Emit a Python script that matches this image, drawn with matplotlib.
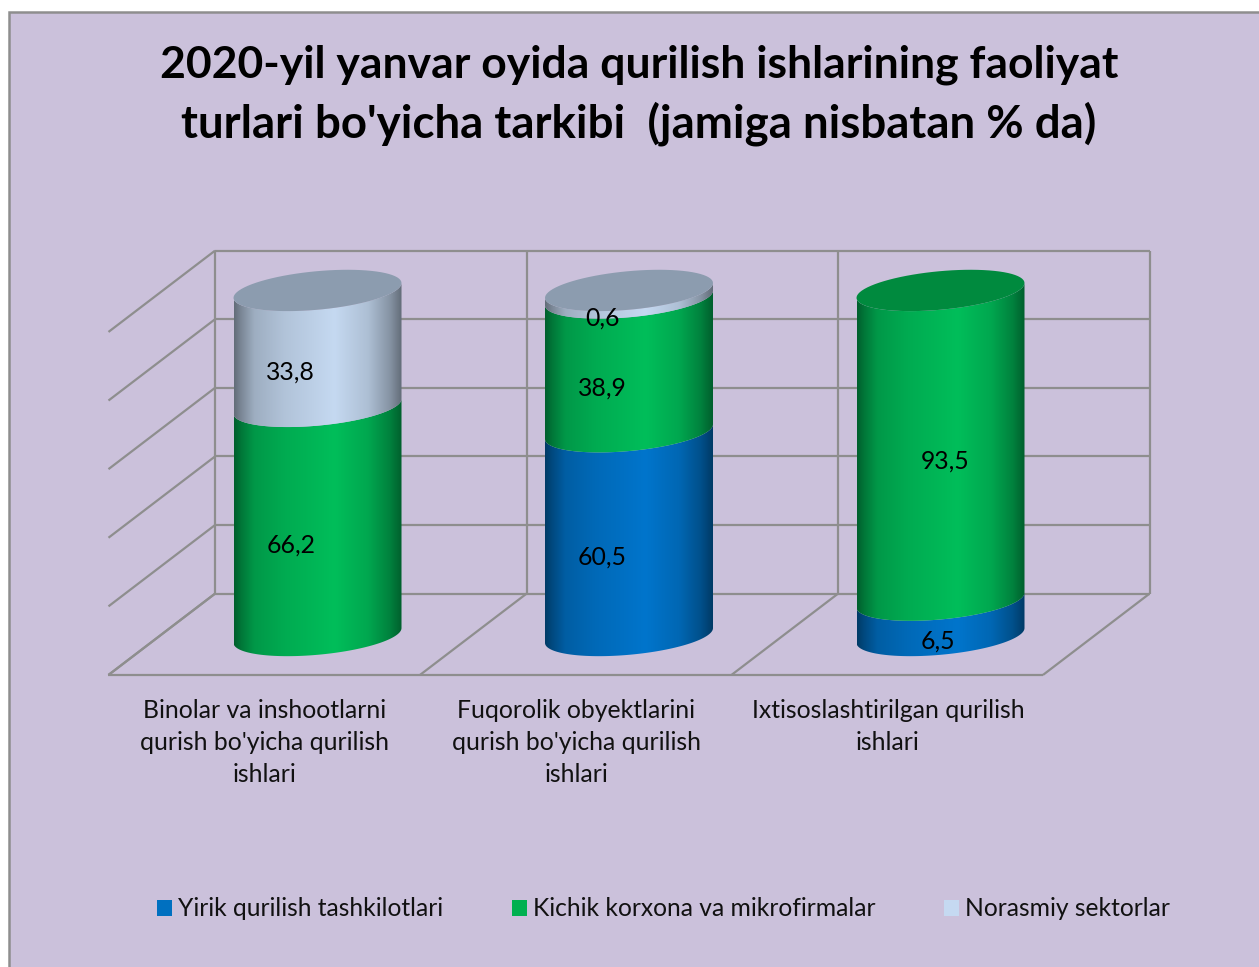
import numpy as np
import matplotlib
matplotlib.use("Agg")
import matplotlib.pyplot as plt
from matplotlib.patches import Polygon, Patch, Rectangle

plt.rcParams['font.family'] = ['Lato', 'DejaVu Sans']

categories = ["Binolar va inshootlarni\nqurish bo'yicha qurilish\nishlari",
              "Fuqorolik obyektlarini\nqurish bo'yicha qurilish\nishlari",
              "Ixtisoslashtirilgan qurilish\nishlari"]
series_names = ["Yirik qurilish tashkilotlari", "Kichik korxona va mikrofirmalar", "Norasmiy sektorlar"]
# heights as the cylinders are drawn in the picture
blue_vals = [0, 59.4, 10.3]
green_vals = [66.8, 39.0, 90.3]
light_vals = [33.8, 2.2, 0]
# printed labels differ a little from the drawn heights
blue_labels = ["", "60,5", "6,5"]
green_labels = ["66,2", "38,9", "93,5"]
light_labels = ["33,8", "0,6", ""]
grid_ticks = [0, 20, 40, 60, 80, 100]

legend_cols = ['#0070C0', '#00B050', '#C5D9F1']
side_cols = ['#0075CC', '#00BE5A', '#C5D9F1']
cap_cols = ['#00508C', '#008A3E', '#8C9CAF']
bg = '#CBC1DB'
line_col = '#8E8E8E'

W, H = 1259, 967
fig = plt.figure(figsize=(W / 100, H / 100), dpi=100, facecolor='white')
fig.add_artist(Rectangle((8.5 / W, -0.01), 1, 1.01 - 11.5 / H, transform=fig.transFigure,
                         facecolor=bg, edgecolor=line_col, linewidth=1.8, zorder=-1))

# x in category units, y in percent, laid over the whole figure
ax = fig.add_axes([0, 0, 1, 1])
ax.patch.set_alpha(0)
step, pct = 311.5, 3.43
ax.set_xlim(-317.5 / step, (W - 317.5) / step)
ax.set_ylim((635.5 - H) / pct, 635.5 / pct)
ax.axis('off')

# box behind the cylinders
back_x, back_y = 0.171, 12.2
front_x, front_y = -0.171, -11.5
n = len(categories)
edges = np.arange(n + 1) - 0.5

def wall(xs, ys, **kw):
    ax.plot(xs, ys, color=line_col, lw=1.6, zorder=1, solid_capstyle='butt', **kw)

for t in grid_ticks:
    wall([edges[0] + back_x, edges[-1] + back_x], [t + back_y, t + back_y])
    wall([edges[0] + front_x, edges[0] + back_x], [t + front_y, t + back_y])
for e in edges:
    wall([e + back_x, e + back_x], [grid_ticks[0] + back_y, grid_ticks[-1] + back_y])
    wall([e + front_x, e + back_x], [front_y, back_y])
wall([edges[0] + front_x, edges[-1] + front_x], [front_y, front_y])

# cylinders
R = 84 / step
tilt = 7.4 / pct
minor = 19.3 / pct
shade_pos = [0, 0.04, 0.12, 0.3, 0.6, 0.8, 0.93, 1]
shade_val = [0.5, 0.62, 0.8, 0.9, 1.0, 0.88, 0.68, 0.5]

def arc(i, v, t0, t1):
    t = np.linspace(t0, t1, 80)
    return np.column_stack([i + R * np.cos(t), v + tilt * np.cos(t) + minor * np.sin(t)])

def side(i, v0, v1, col):
    rgb = np.array(matplotlib.colors.to_rgb(col))
    u = np.linspace(0, 1, 256)
    img = np.interp(u, shade_pos, shade_val)[None, :, None] * rgb[None, None, :]
    im = ax.imshow(img, extent=(i - R, i + R, v0 - 30, v1 + 30), aspect='auto',
                   interpolation='bilinear', zorder=2)
    im.set_clip_path(Polygon(np.vstack([arc(i, v0, np.pi, 2 * np.pi), arc(i, v1, 2 * np.pi, np.pi)]),
                             transform=ax.transData))

stack = [blue_vals, green_vals, light_vals]
label_stack = [blue_labels, green_labels, light_labels]
for i in range(n):
    base = 0
    top_idx = 0
    for s, vals in enumerate(stack):
        if vals[i] > 0:
            side(i, base, base + vals[i], side_cols[s])
            base += vals[i]
            top_idx = s
    ax.add_patch(Polygon(arc(i, base, 0, 2 * np.pi), closed=True, facecolor=cap_cols[top_idx],
                         edgecolor='none', zorder=3))
ax.set_xlim(-317.5 / step, (W - 317.5) / step)
ax.set_ylim((635.5 - H) / pct, 635.5 / pct)

# value labels sit a bit below the middle of their segment
nudge_x = [-0.086, -0.086, -0.008]
for i in range(n):
    base = 0
    for s, vals in enumerate(stack):
        if vals[i] > 0:
            dx = 0.015 if (i, s) == (2, 1) else nudge_x[i]
            dy = -4.6 if (i, s) == (2, 1) else -6.9
            ax.text(i + dx, base + vals[i] / 2 + dy, label_stack[s][i], ha='center', va='center',
                    fontsize=17.8, color='black', zorder=5)
            base += vals[i]

# category labels
for i, lab in enumerate(categories):
    ax.text(i - 0.169, -18.4, lab, ha='center', va='top', fontsize=17.8,
            color='#111111', linespacing=1.49, zorder=5)

fig.text(639 / W, 1 - 64.5 / H, "2020-yil yanvar oyida qurilish ishlarining faoliyat", ha='center', va='center',
         fontsize=32, fontweight='bold', color='black')
fig.text(639 / W, 1 - 123.5 / H, "turlari bo'yicha tarkibi  (jamiga nisbatan % da)", ha='center', va='center',
         fontsize=32.85, fontweight='bold', color='black')

handles = [Patch(facecolor=c, edgecolor='none') for c in legend_cols]
ax.legend(handles, series_names, ncol=3, loc='center left', frameon=False,
          bbox_to_anchor=(157 / W, 1 - 909 / H), fontsize=17.75, borderpad=0, borderaxespad=0,
          handlelength=0.62, handleheight=0.62, handletextpad=0.22, columnspacing=2.8,
          labelcolor='#111111')

fig.savefig('out.png', dpi=100)
